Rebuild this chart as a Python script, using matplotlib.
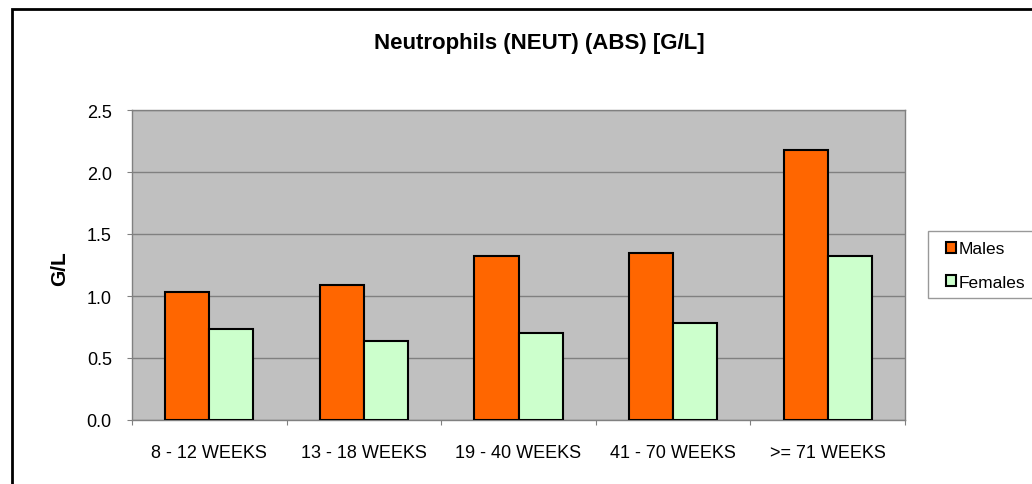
import matplotlib

matplotlib.use("Agg")
import matplotlib.pyplot as plt
import numpy as np
from matplotlib.patches import Rectangle

plt.rcParams["font.family"] = ["Liberation Sans", "DejaVu Sans"]

TITLE = "Neutrophils (NEUT) (ABS) [G/L]"
CATEGORIES = ["8 - 12 WEEKS", "13 - 18 WEEKS", "19 - 40 WEEKS", "41 - 70 WEEKS", ">= 71 WEEKS"]
MALES = [1.03, 1.09, 1.32, 1.35, 2.18]
FEMALES = [0.73, 0.64, 0.70, 0.78, 1.32]
Y_TICKS = [0.0, 0.5, 1.0, 1.5, 2.0, 2.5]

W, H = 1032, 485


def main() -> None:
    fig = plt.figure(figsize=(W / 100, H / 100), dpi=100)
    fig.patch.set_facecolor("white")

    # outer chart border (cut off at right and bottom in the original)
    fig.patches.append(
        Rectangle((12 / W, -0.2), 1.2, (H - 10) / H + 0.2, transform=fig.transFigure,
                  fill=False, edgecolor="black", linewidth=2.0, clip_on=False)
    )

    ax = fig.add_axes([132 / W, (H - 421) / H, (905 - 132) / W, (421 - 111) / H])
    ax.set_facecolor("#C0C0C0")

    x = np.arange(len(CATEGORIES))
    width = 0.285
    ax.bar(x - width / 2, MALES, width, color="#FF6600", edgecolor="black", linewidth=1.5,
           label="Males", zorder=3)
    ax.bar(x + width / 2, FEMALES, width, color="#CCFFCC", edgecolor="black", linewidth=1.5,
           label="Females", zorder=3)

    ax.set_xlim(-0.5, len(CATEGORIES) - 0.5)
    ax.set_ylim(0, 2.5)
    ax.set_yticks(Y_TICKS)
    ax.set_yticklabels([f"{v:.1f}" for v in Y_TICKS], fontsize=13)
    ax.yaxis.grid(True, color="#808080", linewidth=1.0, zorder=1)
    ax.set_axisbelow(True)

    ax.set_xticks(np.arange(len(CATEGORIES) + 1) - 0.5)
    ax.set_xticklabels([])
    ax.set_xticks(x, minor=True)
    ax.set_xticklabels(CATEGORIES, minor=True, fontsize=13)
    ax.tick_params(axis="x", which="minor", length=0, pad=17)
    ax.tick_params(axis="x", which="major", length=3.5, color="#808080")
    ax.tick_params(axis="y", length=3.5, color="#808080", pad=11)

    for side in ("left", "bottom", "top", "right"):
        ax.spines[side].set_color("#808080")
        ax.spines[side].set_linewidth(1.0)

    ax.set_ylabel("G/L", fontsize=15, fontweight="bold")
    ax.yaxis.set_label_coords((69 - 132) / (905 - 132), 0.49)

    fig.text(539 / W, 1 - 43 / H, TITLE, ha="center", va="center", fontsize=16, fontweight="bold")

    # legend frame (extends past the right edge, as in the original)
    fig.patches.append(
        Rectangle((928 / W, (H - 299) / H), 120 / W, 67 / H, transform=fig.transFigure,
                  facecolor="white", edgecolor="#999999", linewidth=1.0, clip_on=False)
    )
    handles, labels = ax.get_legend_handles_labels()
    leg = fig.legend(handles, labels, loc="center left", bbox_to_anchor=(937 / W, 1 - 266.5 / H),
                     frameon=False, fontsize=12.5, handlelength=0.6, handleheight=0.6,
                     handletextpad=0.15, labelspacing=1.05, borderpad=0)
    leg.set_zorder(5)

    fig.savefig("out.png", dpi=100)
    plt.close(fig)


if __name__ == "__main__":
    main()
